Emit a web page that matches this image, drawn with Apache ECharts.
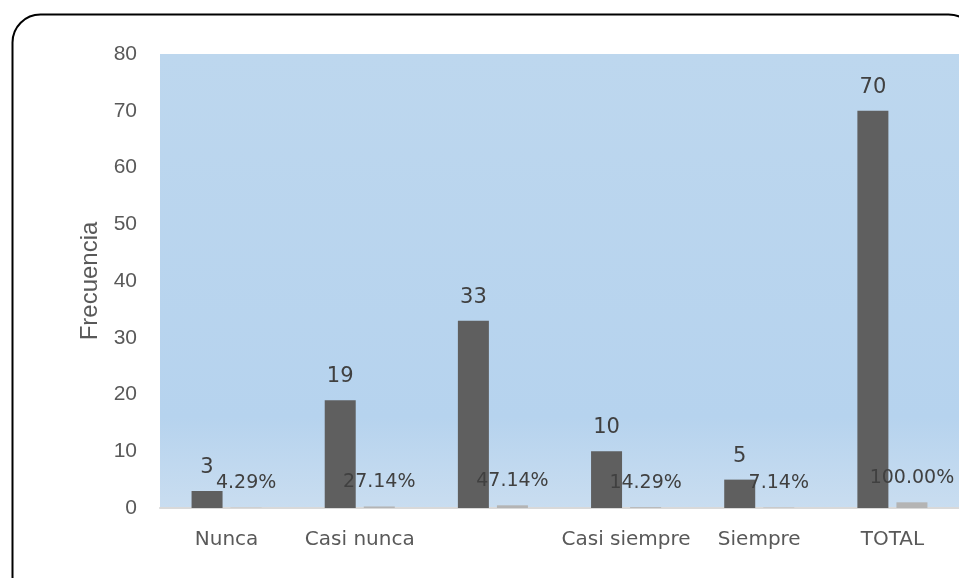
<!DOCTYPE html>
<html>
<head>
<meta charset="utf-8">
<script src="https://cdn.jsdelivr.net/npm/echarts@6/dist/echarts.min.js"></script>
<style>
  html, body { margin: 0; padding: 0; background: #fff; }
  #chart { width: 959px; height: 578px; }
</style>
</head>
<body>
<div id="chart"></div>
<script>
  var categories = ['Nunca', 'Casi nunca', '', 'Casi siempre', 'Siempre', 'TOTAL'];
  var frecuencia = [3, 19, 33, 10, 5, 70];
  var porcentaje = [0.0429, 0.2714, 0.4714, 0.1429, 0.0714, 1.0];
  var yTicks = [0, 10, 20, 30, 40, 50, 60, 70, 80];

  var myChart = echarts.init(document.getElementById('chart'));
  var option = {
    animation: false,
    graphic: [{
      type: 'rect',
      left: 10, top: 12,
      shape: { width: 964, height: 590, r: 28 },
      style: { fill: 'none', stroke: '#000', lineWidth: 2 },
      z: 100
    }],
    grid: {
      left: 160, top: 54, width: 812, height: 454,
      show: true,
      borderWidth: 0,
      backgroundColor: new echarts.graphic.LinearGradient(0, 0, 0, 1, [
        { offset: 0, color: '#bdd7ee' },
        { offset: 0.8, color: '#b6d3ee' },
        { offset: 1, color: '#c9ddf0' }
      ])
    },
    xAxis: {
      type: 'category',
      data: categories,
      axisLine: { lineStyle: { color: '#d9d9d9', width: 2 } },
      axisTick: { show: false },
      axisLabel: {
        color: '#595959', fontSize: 20, fontFamily: 'DejaVu Sans', margin: 22,
        interval: 0
      }
    },
    yAxis: {
      type: 'value',
      min: 0, max: 80, interval: 10,
      name: 'Frecuencia',
      nameLocation: 'middle',
      nameGap: 58,
      nameTextStyle: { color: '#595959', fontSize: 24 },
      splitLine: { show: false },
      axisLine: { show: false },
      axisTick: { show: false },
      axisLabel: {
        color: '#595959', fontSize: 21, margin: 23,
        formatter: function (v) { return yTicks.indexOf(v) >= 0 ? v : ''; }
      }
    },
    series: [{
      name: 'Frecuencia',
      type: 'bar',
      data: frecuencia,
      barWidth: 31,
      barGap: '26%',
      itemStyle: { color: '#5f5f5f' },
      label: {
        show: true, position: 'top', distance: 13,
        color: '#404040', fontSize: 21, fontFamily: 'DejaVu Sans'
      }
    }, {
      name: 'Porcentaje',
      type: 'bar',
      data: porcentaje,
      barWidth: 31,
      itemStyle: { color: '#b4b4b4' },
      label: {
        show: true, position: 'top', distance: 15,
        color: '#404040', fontSize: 19, fontFamily: 'DejaVu Sans',
        formatter: function (p) { return (p.value * 100).toFixed(2) + '%'; }
      }
    }]
  };
  myChart.setOption(option);
</script>
</body>
</html>
